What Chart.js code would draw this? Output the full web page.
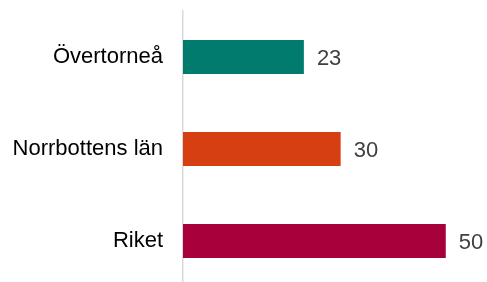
<!DOCTYPE html>
<html>
<head>
<meta charset="utf-8">
<script src="https://cdn.jsdelivr.net/npm/chart.js@4"></script>
<style>
    html, body { margin: 0; padding: 0; background: #fff; overflow: hidden; }
    canvas { display: block; }
</style>
</head>
<body>
<canvas id="barChart" width="487" height="287"></canvas>
<script>
const categories = ['Övertorneå', 'Norrbottens län', 'Riket'];
const values = [23, 30, 50];
const barColors = ['#007B6D', '#D63F11', '#A8003A'];

// Value labels just after each bar
const valueLabels = {
    id: 'valueLabels',
    afterDatasetsDraw(chart) {
        const ctx = chart.ctx;
        const meta = chart.getDatasetMeta(0);
        ctx.save();
        ctx.font = '22px "Liberation Sans", Arial, sans-serif';
        ctx.fillStyle = '#404040';
        ctx.textAlign = 'left';
        ctx.textBaseline = 'middle';
        meta.data.forEach((bar, i) => {
            ctx.fillText(String(values[i]), bar.x + 13, bar.y + 2);
        });
        ctx.restore();
    }
};

const ctx = document.getElementById('barChart');
new Chart(ctx, {
    type: 'bar',
    data: {
        labels: categories,
        datasets: [{
            data: values,
            backgroundColor: barColors,
            borderWidth: 0,
            barPercentage: 0.37,
            categoryPercentage: 1
        }]
    },
    options: {
        indexAxis: 'y',
        responsive: false,
        animation: false,
        layout: { padding: { top: 11, right: 16, bottom: 0, left: 0 } },
        plugins: {
            legend: { display: false },
            tooltip: { enabled: false }
        },
        scales: {
            x: {
                display: false,
                min: 0,
                max: 54.8
            },
            y: {
                afterFit: function (scale) {
                    scale.width = 183;
                    scale.paddingTop = 0;
                    scale.paddingBottom = 0;
                },
                grid: { drawOnChartArea: false, drawTicks: false, color: 'transparent' },
                border: { display: true, color: '#d9d9d9', width: 1.5 },
                ticks: {
                    color: '#000',
                    padding: 20,
                    font: { family: '"Liberation Sans", Arial, sans-serif', size: 22 }
                }
            }
        }
    },
    plugins: [valueLabels]
});
</script>
</body>
</html>
